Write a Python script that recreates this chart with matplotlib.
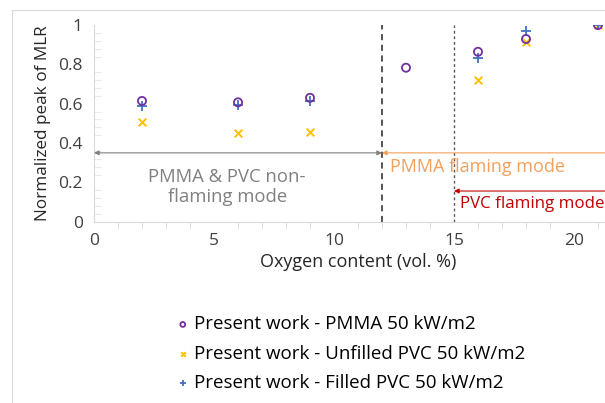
import numpy as np
import matplotlib
matplotlib.use('Agg')
import matplotlib.pyplot as plt
from matplotlib.ticker import MultipleLocator

plt.rcParams['font.family'] = ['Open Sans', 'DejaVu Sans']

# data
x_pmma = [2, 6, 9, 13, 16, 18, 21]
y_pmma = [0.614, 0.607, 0.630, 0.783, 0.864, 0.929, 1.0]
x_upvc = [2, 6, 9, 16, 18, 21]
y_upvc = [0.508, 0.449, 0.457, 0.719, 0.915, 1.0]
x_fpvc = [2, 6, 9, 16, 18, 21]
y_fpvc = [0.588, 0.593, 0.614, 0.830, 0.969, 1.0]

labels = ['Present work - PMMA 50 kW/m2',
          'Present work - Unfilled PVC 50 kW/m2',
          'Present work - Filled PVC 50 kW/m2']

X_PMMA_FLAME = 12
X_PVC_FLAME = 15

C_PMMA = '#7030A0'
C_UPVC = '#FFC000'
C_FPVC = '#4472C4'
GRAY = '#808080'
ORANGE = '#F4A05A'
RED = '#C00000'

fig = plt.figure(figsize=(6.05, 4.03), dpi=100)
# outer chart frame
fig.patches.append(plt.Rectangle((12/605, -0.1), 1.0, 1.1 - 10/403, transform=fig.transFigure,
                                 fill=False, edgecolor='#D9D9D9', lw=0.8))
ax = fig.add_axes([94/605, 181.3/403, 528/605, 0.488])
ax.set_xlim(0, 22)
ax.set_ylim(0, 1)

p1 = ax.scatter(x_pmma, y_pmma, marker='o', s=34, facecolors='none', edgecolors=C_PMMA, lw=1.3, zorder=3)
p2 = ax.scatter(x_upvc, y_upvc, marker='x', s=30, color=C_UPVC, lw=1.4, zorder=2)
p3 = ax.scatter(x_fpvc, y_fpvc, marker='+', s=42, color=C_FPVC, lw=1.3, zorder=2)

ax.axvline(X_PMMA_FLAME, color='#262626', ls=(0, (4, 3)), lw=1.1)
ax.axvline(X_PVC_FLAME, color='#595959', ls=(0, (2, 2)), lw=1.0)

# regime arrows
ax.annotate('', xy=(0, 0.35), xytext=(X_PMMA_FLAME, 0.35),
            arrowprops=dict(arrowstyle='<|-|>', color=GRAY, lw=0.8, mutation_scale=7, shrinkA=0, shrinkB=0))
ax.annotate('', xy=(X_PMMA_FLAME, 0.35), xytext=(22, 0.35),
            arrowprops=dict(arrowstyle='-|>', color=ORANGE, lw=0.8, mutation_scale=7, shrinkA=0, shrinkB=0))
ax.annotate('', xy=(X_PVC_FLAME, 0.156), xytext=(22, 0.156),
            arrowprops=dict(arrowstyle='-|>', color=RED, lw=0.8, mutation_scale=7, shrinkA=0, shrinkB=0))

ax.text(5.55, 0.175, 'PMMA & PVC non-\nflaming mode', color=GRAY, fontsize=13.3,
        ha='center', va='center', linespacing=1.15)
ax.text(12.35, 0.28, 'PMMA flaming mode', color=ORANGE, fontsize=13, va='center')
ax.text(15.25, 0.09, 'PVC flaming mode', color=RED, fontsize=12.2, va='center')

ax.set_xlabel('Oxygen content (vol. %)', fontsize=13, color='#262626', labelpad=3)
ax.set_ylabel('Normalized peak of MLR', fontsize=12.3, color='#262626', labelpad=5)
ax.xaxis.set_major_locator(MultipleLocator(5))
ax.xaxis.set_minor_locator(MultipleLocator(1))
ax.yaxis.set_minor_locator(MultipleLocator(0.04))
ax.set_yticks([0, 0.2, 0.4, 0.6, 0.8, 1.0])
ax.set_yticklabels(['0', '0.2', '0.4', '0.6', '0.8', '1'])
ax.tick_params(axis='both', which='major', length=0, labelsize=12.5, labelcolor='#404040', pad=8)
ax.tick_params(axis='x', which='minor', length=5, color='#D9D9D9', direction='out')
ax.tick_params(axis='y', which='minor', length=5, color='#E6E6E6', direction='in')
for s in ['top', 'right']:
    ax.spines[s].set_visible(False)
for s in ['left', 'bottom']:
    ax.spines[s].set_color('#D9D9D9')

fig.legend([p1, p2, p3], labels, loc='upper left', bbox_to_anchor=(164/605, 1 - 306/403),
           frameon=False, fontsize=13.5, handletextpad=0.1, labelspacing=0.6,
           markerscale=0.6, handlelength=1.0, borderpad=0)

fig.savefig('out.png', dpi=100)
